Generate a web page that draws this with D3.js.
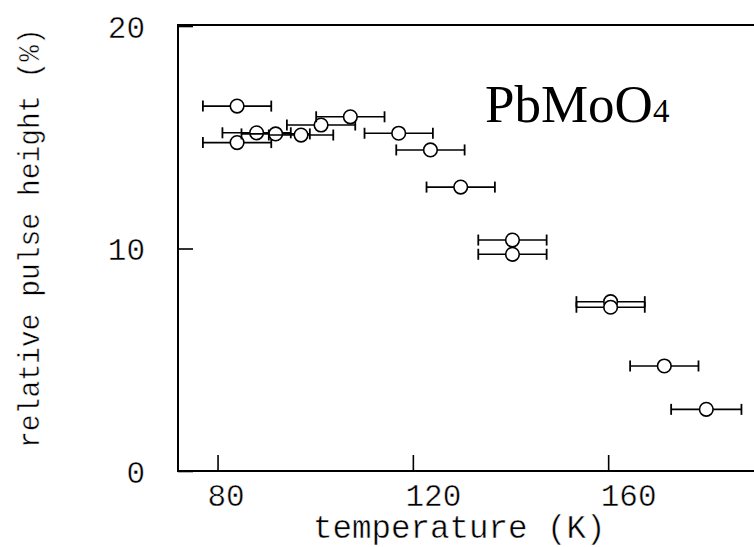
<!DOCTYPE html>
<html>
<head>
<meta charset="utf-8">
<script src="https://cdn.jsdelivr.net/npm/d3@7"></script>
<style>
  html, body { margin: 0; padding: 0; background: #fff; }
  svg { display: block; }
  .thin { stroke: #fff; stroke-width: 0.45px; }
</style>
</head>
<body>
<svg id="chart" width="754" height="547"></svg>
<script>
// ---- data ----
const temperature = [84.0, 84.0, 88.0, 91.9, 97.1, 101.2, 107.2, 117.1, 123.6, 129.8, 140.4, 140.4, 160.5, 160.5, 171.5, 180.1];
const pulseHeight = [16.4, 14.76, 15.2, 15.15, 15.1, 15.55, 15.92, 15.18, 14.43, 12.76, 10.38, 9.74, 7.61, 7.36, 4.72, 2.77];
const tempError   = [7.0, 7.0, 7.0, 7.0, 6.6, 7.0, 7.0, 7.0, 7.0, 7.0, 7.0, 7.0, 7.0, 7.0, 7.0, 7.2];
const xTicks = [80, 120, 160];
const yTicks = [0, 10, 20];
const xTitle = "temperature (K)";
const yTitle = "relative pulse height (%)";
const sampleMain = "PbMoO";
const sampleSub = "4";

// ---- layout ----
const plotLeft = 178, plotRight = 764.4, plotTop = 26, plotBottom = 471;
const xLabelShift = [8, 20, 20];
const svg = d3.select("#chart");
const x = d3.scaleLinear().domain([71.9, 192]).range([plotLeft, plotRight]);
const y = d3.scaleLinear().domain([0, 20]).range([plotBottom, plotTop]);
const mono = "'Liberation Mono', 'Courier New', monospace";

// frame
svg.append("rect")
  .attr("x", plotLeft).attr("y", y(20) - 1)
  .attr("width", plotRight - plotLeft).attr("height", plotBottom - y(20) + 1)
  .attr("fill", "none").attr("stroke", "#000").attr("stroke-width", 2);

// x axis
const gx = svg.append("g").attr("transform", `translate(0,${plotBottom})`)
  .call(d3.axisBottom(x).tickValues(xTicks).tickSize(-16).tickSizeOuter(0).tickFormat(d3.format("d")));
gx.select(".domain").remove();
gx.selectAll(".tick line").attr("stroke", "#000").attr("stroke-width", 1.6);
gx.selectAll(".tick text")
  .attr("class", "thin")
  .attr("y", 35).attr("dy", 0).attr("dx", (d, i) => xLabelShift[i])
  .attr("fill", "#000")
  .style("font-family", mono).style("font-size", "31px");

// y axis
const gy = svg.append("g").attr("transform", `translate(${plotLeft},0)`)
  .call(d3.axisLeft(y).tickValues(yTicks).tickSize(-15).tickSizeOuter(0).tickFormat(d3.format("d")));
gy.select(".domain").remove();
gy.selectAll(".tick line").attr("stroke", "#000").attr("stroke-width", 1.6);
gy.selectAll(".tick text")
  .attr("class", "thin")
  .attr("x", -33).attr("dy", "0.36em")
  .attr("fill", "#000")
  .style("font-family", mono).style("font-size", "31px");

// titles
svg.append("text")
  .attr("class", "thin")
  .attr("x", 313).attr("y", 538)
  .attr("fill", "#000")
  .style("font-family", mono).style("font-size", "32.5px")
  .text(xTitle);

svg.append("text")
  .attr("class", "thin")
  .attr("transform", "translate(39,448) rotate(-90) scale(1,1.08)")
  .attr("fill", "#000")
  .style("font-family", mono).style("font-size", "28px")
  .text(yTitle);

// sample label
const lab = svg.append("text")
  .attr("x", 485).attr("y", 122)
  .attr("fill", "#000")
  .style("font-family", "'Liberation Serif', 'Times New Roman', serif")
  .style("font-size", "53px");
lab.append("tspan").text(sampleMain);
lab.append("tspan").style("font-size", "33px").text(sampleSub);

// data
const data = temperature.map((t, i) => ({ t, v: pulseHeight[i], e: tempError[i] }));
const pts = svg.append("g").attr("stroke", "#000").attr("fill", "none");
const capH = 5.5;
data.forEach(d => {
  const g = pts.append("g");
  g.append("line")
    .attr("x1", x(d.t - d.e)).attr("x2", x(d.t + d.e))
    .attr("y1", y(d.v)).attr("y2", y(d.v))
    .attr("stroke-width", 1.6);
  [d.t - d.e, d.t + d.e].forEach(c => {
    g.append("line")
      .attr("x1", x(c)).attr("x2", x(c))
      .attr("y1", y(d.v) - capH).attr("y2", y(d.v) + capH)
      .attr("stroke-width", 1.8);
  });
  g.append("circle")
    .attr("cx", x(d.t)).attr("cy", y(d.v)).attr("r", 6.8)
    .attr("fill", "#fff").attr("stroke-width", 1.6);
});
</script>
</body>
</html>
